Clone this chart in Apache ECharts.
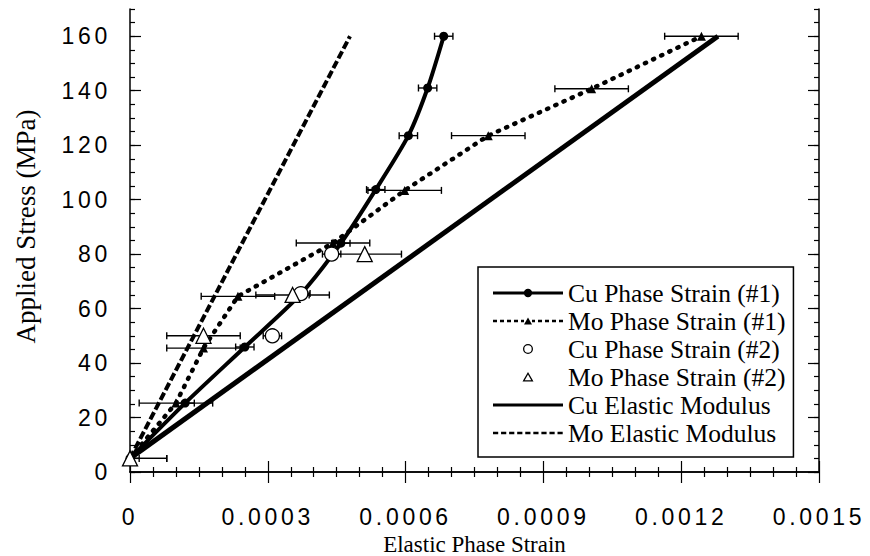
<!DOCTYPE html>
<html><head><meta charset="utf-8">
<script src="https://cdn.jsdelivr.net/npm/echarts@6/dist/echarts.min.js"></script>
<style>
html,body{margin:0;padding:0;background:#fff}
#c{width:870px;height:556px}
#c text[style*="Liberation Sans"], #c text[font-family*="Liberation Sans"]{letter-spacing:3.7px}
</style>
</head><body><div id="c"></div>
<script>
// ---- data ----
const xTickValues = [0, 0.0003, 0.0006, 0.0009, 0.0012, 0.0015];
const xTickLabels = ['0', '0.0003', '0.0006', '0.0009', '0.0012', '0.0015'];
const yTickValues = [0, 20, 40, 60, 80, 100, 120, 140, 160];
const yTickLabels = ['0', '20', '40', '60', '80', '100', '120', '140', '160'];

const cu1Strain = [0, 0.00012, 0.00025, 0.00037, 0.000459, 0.000535, 0.000606, 0.000648, 0.000683];
const cu1Stress = [5, 25.3, 45.9, 65, 84, 103.7, 123.5, 141, 160];
const cu1Err    = [0.00002, 0.00002, 0.00002, 0.00002, 0.00002, 0.00002, 0.00002, 0.00002, 0.00002];

const mo1Strain = [0, 0.0001, 0.00016, 0.000235, 0.000442, 0.000598, 0.00078, 0.001005, 0.001244];
const mo1Stress = [5, 25.3, 45.5, 64.5, 84.1, 103.4, 123.5, 140.7, 160];
const mo1Err    = [0.00008, 0.00008, 0.00008, 0.00008, 0.00008, 0.00008, 0.00008, 0.00008, 0.00008];

const cu2Strain = [0.00031, 0.000372, 0.000439];
const cu2Stress = [50, 65.5, 80];
const cu2Err    = [0.00002, 0.00002, 0.00002];

const mo2Strain = [0, 0.00016, 0.000354, 0.000511];
const mo2Stress = [5, 50, 65, 80];
const mo2Err    = [0.00008, 0.00008, 0.00008, 0.00008];

const cuModStrain = [0, 0.00128];
const cuModStress = [5, 160];
const moModStrain = [0, 0.000479];
const moModStress = [5, 160];

const seriesNames = ['Cu Phase Strain (#1)', 'Mo Phase Strain (#1)', 'Cu Phase Strain (#2)',
                     'Mo Phase Strain (#2)', 'Cu Elastic Modulus', 'Mo Elastic Modulus'];

// ---- chart ----
const pairs = (xs, ys) => xs.map((x, i) => [x, ys[i]]);
const triples = (xs, ys, es) => xs.map((x, i) => [x, ys[i], es[i]]);
const BLACK = '#000';
const TICKFONT = 'Liberation Sans';
const SERIF = 'Liberation Serif';

function errSeries(xs, ys, es) {
  return {
    type: 'custom', clip: true, silent: true, z: 3,
    data: triples(xs, ys, es),
    renderItem(params, api) {
      const x = api.value(0), y = api.value(1), e = api.value(2);
      const a = api.coord([x - e, y]), b = api.coord([x + e, y]);
      const h = 3.5, st = { stroke: BLACK, lineWidth: 1.4 };
      return { type: 'group', children: [
        { type: 'line', shape: { x1: a[0], y1: a[1], x2: b[0], y2: b[1] }, style: st },
        { type: 'line', shape: { x1: a[0], y1: a[1] - h, x2: a[0], y2: a[1] + h }, style: st },
        { type: 'line', shape: { x1: b[0], y1: b[1] - h, x2: b[0], y2: b[1] + h }, style: st }
      ]};
    }
  };
}

// legend icon shapes drawn in a 70 x 12 box (corner specks pin the box size)
const CORNERS = 'M0 0h0.01v0.01h-0.01Z M69.99 11.99h0.01v0.01h-0.01Z ';
function dashes(ranges, y0, y1) {
  return ranges.map(r => `M${r[0]} ${y0}H${r[1]}V${y1}H${r[0]}Z `).join('');
}
const evenDashes = (n, len, total) => {
  const out = [], per = (total + (total / n - len)) / n;
  for (let i = 0; i < n; i++) out.push([+(i * per).toFixed(2), +(i * per + len).toFixed(2)]);
  return out;
};
const ICON = {
  cu1: 'path://' + CORNERS + 'M0 4.6H70V7.4H0Z M30.8 6A4.2 4.2 0 1 1 39.2 6A4.2 4.2 0 1 1 30.8 6Z',
  mo1: 'path://' + CORNERS + dashes([[0,4],[7,11],[14,18],[21,25],[28,31],[39,42],[45,49],[52,56],[59,63],[66,70]], 4.8, 7.2)
        + 'M31 9.5L35 2.5L39 9.5Z',
  cu2: 'path://' + CORNERS + 'M30 6A5 5 0 1 1 40 6A5 5 0 1 1 30 6Z M31.3 6A3.7 3.7 0 1 0 38.7 6A3.7 3.7 0 1 0 31.3 6Z',
  mo2: 'path://' + CORNERS + 'M29.5 10.5L35 1L40.5 10.5Z M31.75 9.2L38.25 9.2L35 3.6Z',
  cuM: 'path://' + CORNERS + 'M0 4.6H70V7.4H0Z',
  moM: 'path://' + CORNERS + dashes(evenDashes(9, 5.2, 70), 4.7, 7.3)
};
const legendItem = (name, icon) => ({ name, icon, itemStyle: { color: BLACK, borderWidth: 0, opacity: 1 } });

const lineAxis = { lineStyle: { color: BLACK, width: 1.5 } };
const tickStyle = { color: BLACK, width: 1.2 };

const chart = echarts.init(document.getElementById('c'), null, { renderer: 'svg' });
chart.setOption({
  animation: false,
  backgroundColor: '#fff',
  grid: { left: 130, right: 51, top: 9, bottom: 84, containLabel: false, outerBoundsMode: 'none' },
  xAxis: [
    { type: 'value', min: 0, max: 0.0015, interval: 0.0003, position: 'bottom',
      axisLine: lineAxis,
      axisTick: { inside: true, length: 11, lineStyle: tickStyle },
      minorTick: { show: true, splitNumber: 6, length: 5, lineStyle: tickStyle },
      splitLine: { show: false },
      axisLabel: { customValues: xTickValues, margin: 33, color: BLACK, fontFamily: TICKFONT, fontSize: 23,
        formatter: v => { const k = xTickValues.findIndex(t => Math.abs(t - v) < 1e-9); return k >= 0 ? xTickLabels[k] : ''; } },
      name: 'Elastic Phase Strain', nameLocation: 'middle', nameGap: 57,
      nameTextStyle: { fontFamily: SERIF, fontSize: 23, lineHeight: 23, color: BLACK } },
    { type: 'value', min: 0, max: 0.0015, interval: 0.0003, position: 'top',
      axisLine: lineAxis,
      axisTick: { inside: true, length: 11, lineStyle: tickStyle },
      minorTick: { show: true, splitNumber: 6, length: 5, lineStyle: tickStyle },
      splitLine: { show: false }, axisLabel: { show: false } }
  ],
  yAxis: [
    { type: 'value', min: 0, max: 170, interval: 20, position: 'left',
      axisLine: lineAxis,
      axisTick: { inside: true, length: 11, lineStyle: tickStyle, customValues: yTickValues },
      splitLine: { show: false },
      axisLabel: { customValues: yTickValues, margin: 19, color: BLACK, fontFamily: TICKFONT, fontSize: 23,
        formatter: v => { const k = yTickValues.indexOf(v); return k >= 0 ? yTickLabels[k] : ''; } },
      name: 'Applied Stress (MPa)', nameLocation: 'middle', nameGap: 91,
      nameTextStyle: { fontFamily: SERIF, fontSize: 27, color: BLACK, padding: [0, 0, 0, 28] } },
    { type: 'value', min: 0, max: 170, interval: 5, position: 'left',
      axisLine: { show: false }, axisTick: { inside: true, length: 5, lineStyle: tickStyle },
      splitLine: { show: false }, axisLabel: { show: false } },
    { type: 'value', min: 0, max: 170, interval: 20, position: 'right',
      axisLine: lineAxis, axisTick: { inside: true, length: 11, lineStyle: tickStyle, customValues: yTickValues },
      splitLine: { show: false }, axisLabel: { show: false } },
    { type: 'value', min: 0, max: 170, interval: 5, position: 'right',
      axisLine: { show: false }, axisTick: { inside: true, length: 5, lineStyle: tickStyle },
      splitLine: { show: false }, axisLabel: { show: false } }
  ],
  legend: {
    orient: 'vertical', left: 478, top: 267,
    borderColor: BLACK, borderWidth: 1.5, borderRadius: 0, backgroundColor: '#fff',
    padding: [13, 8, 11, 15], itemWidth: 70, itemHeight: 12, itemGap: 2,
    textStyle: { fontFamily: SERIF, fontSize: 25.5, lineHeight: 26, color: BLACK },
    selectedMode: false,
    data: [
      legendItem(seriesNames[0], ICON.cu1),
      legendItem(seriesNames[1], ICON.mo1),
      legendItem(seriesNames[2], ICON.cu2),
      legendItem(seriesNames[3], ICON.mo2),
      legendItem(seriesNames[4], ICON.cuM),
      legendItem(seriesNames[5], ICON.moM)
    ]
  },
  series: [
    { name: seriesNames[4], type: 'line', data: pairs(cuModStrain, cuModStress), symbol: 'none', z: 2,
      lineStyle: { color: BLACK, width: 5 }, itemStyle: { color: BLACK } },
    { name: seriesNames[5], type: 'line', data: pairs(moModStrain, moModStress), symbol: 'none', z: 2,
      lineStyle: { color: BLACK, width: 4, type: [8, 3] }, itemStyle: { color: BLACK } },
    errSeries(cu1Strain, cu1Stress, cu1Err),
    errSeries(mo1Strain, mo1Stress, mo1Err),
    errSeries(cu2Strain, cu2Stress, cu2Err),
    errSeries(mo2Strain, mo2Stress, mo2Err),
    { name: seriesNames[1], type: 'line', data: pairs(mo1Strain, mo1Stress), z: 4,
      symbol: 'triangle', symbolSize: 9, showAllSymbol: true,
      lineStyle: { color: BLACK, width: 4.5, type: [1.2, 7.8], cap: 'round' }, itemStyle: { color: BLACK } },
    { name: seriesNames[0], type: 'line', data: pairs(cu1Strain, cu1Stress), z: 5, smooth: 0.25,
      symbol: 'circle', symbolSize: 9, showAllSymbol: true,
      lineStyle: { color: BLACK, width: 4 }, itemStyle: { color: BLACK } },
    { name: seriesNames[2], type: 'scatter', data: pairs(cu2Strain, cu2Stress), z: 6, clip: false,
      symbol: 'circle', symbolSize: 14,
      itemStyle: { color: '#fff', borderColor: BLACK, borderWidth: 1.3, opacity: 1 } },
    { name: seriesNames[3], type: 'scatter', data: pairs(mo2Strain, mo2Stress), z: 6, clip: false,
      symbol: 'triangle', symbolSize: 15,
      itemStyle: { color: '#fff', borderColor: BLACK, borderWidth: 1.3, opacity: 1 } }
  ]
});

function spaceDigits() {
  document.querySelectorAll('#c svg text').forEach(t => {
    if (/^[0-9.]+$/.test((t.textContent || '').trim())) {
      t.style.letterSpacing = '3.7px';
      t.setAttribute('letter-spacing', '3.7');
    }
  });
}
spaceDigits();
chart.on('finished', spaceDigits);
setTimeout(spaceDigits, 30);
</script>
</body></html>
